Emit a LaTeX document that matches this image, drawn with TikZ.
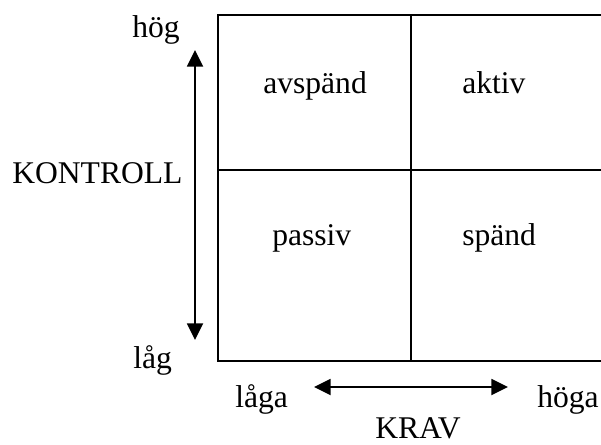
\documentclass[tikz,border=0pt]{standalone}
\usepackage{fontspec}
\setmainfont{Liberation Serif}
\usetikzlibrary{arrows.meta}
\begin{document}
\begin{tikzpicture}
    [x=0.75pt,y=-0.75pt,
     grid/.style={line width=1.6pt},
     axis/.style={line width=1.4pt,{Triangle[length=12.5pt,width=12pt]}-{Triangle[length=12.5pt,width=12pt]}},
     label/.style={anchor=base west,inner sep=0pt,font=\fontsize{23.7}{28}\selectfont}]
  \useasboundingbox (0,0) rectangle (601,444);

  % the four fields
  \draw[grid] (601,15) -- (218,15) -- (218,361) -- (601,361);
  \draw[grid] (411,15) -- (411,361);
  \draw[grid] (218,170) -- (601,170);

  \foreach \name/\x/\y/\text in {avs/263/93/avspänd, akt/462/93/aktiv, pas/272/245/passiv, spa/462/245/spänd}
    \node[label] (\name) at (\x,\y) {\text};

  % axes
  \foreach \name/\x/\y/\text in {hog/132/37/hög, lag/133/368/låg, kontroll/12/183/KONTROLL,
                                 laga/235/407/låga, hoga/537/407/höga, krav/375/438/KRAV}
    \node[label] (\name) at (\x,\y) {\text};

  \coordinate (ktop) at (195,50);
  \coordinate (kbot) at (195,340);
  \coordinate (kleft) at (314,387);
  \coordinate (kright) at (508,387);
  \draw[axis] (ktop) -- (kbot);
  \draw[axis] (kleft) -- (kright);
\end{tikzpicture}
\end{document}
